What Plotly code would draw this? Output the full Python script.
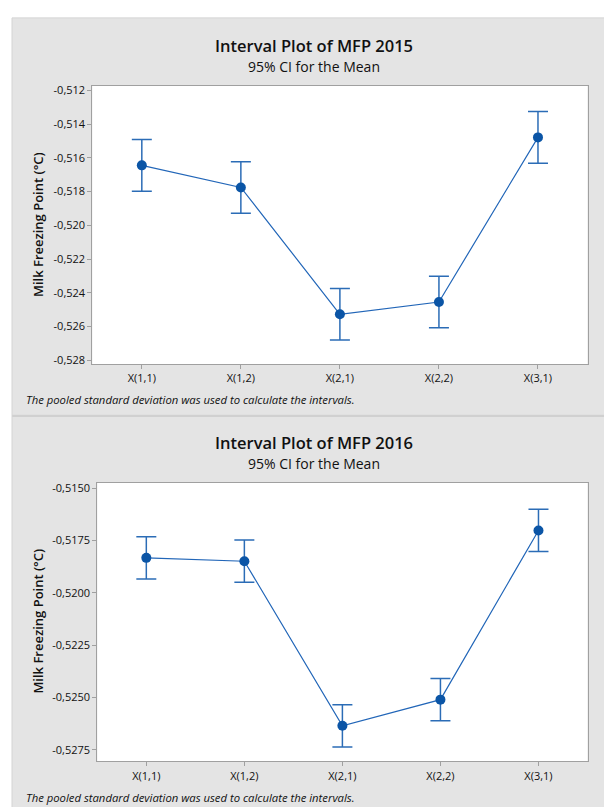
import plotly.graph_objects as go

# ---- data ----
categories = ["X(1,1)", "X(1,2)", "X(2,1)", "X(2,2)", "X(3,1)"]
mean_2015 = [-0.51644, -0.51775, -0.52528, -0.52455, -0.51478]
ci_half_2015 = [0.00153, 0.00153, 0.00153, 0.00153, 0.00153]
mean_2016 = [-0.51833, -0.51849, -0.52635, -0.52510, -0.51702]
ci_half_2016 = [0.00101, 0.00101, 0.00101, 0.00101, 0.00101]

ticks_2015 = [-0.512, -0.514, -0.516, -0.518, -0.520, -0.522, -0.524, -0.526, -0.528]
ticklabels_2015 = ["-0,512", "-0,514", "-0,516", "-0,518", "-0,520", "-0,522", "-0,524", "-0,526", "-0,528"]
ticks_2016 = [-0.5150, -0.5175, -0.5200, -0.5225, -0.5250, -0.5275]
ticklabels_2016 = ["-0,5150", "-0,5175", "-0,5200", "-0,5225", "-0,5250", "-0,5275"]

titles = ["Interval Plot of MFP 2015", "Interval Plot of MFP 2016"]
subtitle = "95% CI for the Mean"
ytitle = "Milk Freezing Point (°C)"
footnote = "The pooled standard deviation was used to calculate the intervals."

W, H = 604, 810
FONT = "Open Sans"
BLUE = "#0b55a6"
LINE_BLUE = "#2266b8"
EB_BLUE = "#2b6cb6"
AXIS_GRAY = "#a0a0a0"
PANEL = "#e4e4e4"

def px(x):
    return x / W

def py(y):
    return 1 - y / H

fig = go.Figure()

xs = list(range(len(categories)))

fig.add_trace(go.Scatter(
    x=xs, y=mean_2015, mode="lines+markers",
    line=dict(color=LINE_BLUE, width=1.2),
    marker=dict(color=BLUE, size=10),
    error_y=dict(type="data", array=ci_half_2015, visible=True,
                 color=EB_BLUE, thickness=1.5, width=10),
    xaxis="x", yaxis="y", showlegend=False, hoverinfo="skip"))

fig.add_trace(go.Scatter(
    x=xs, y=mean_2016, mode="lines+markers",
    line=dict(color=LINE_BLUE, width=1.2),
    marker=dict(color=BLUE, size=10),
    error_y=dict(type="data", array=ci_half_2016, visible=True,
                 color=EB_BLUE, thickness=1.5, width=10),
    xaxis="x2", yaxis="y2", showlegend=False, hoverinfo="skip"))

axis_common = dict(showline=True, mirror=True, linecolor=AXIS_GRAY, linewidth=1,
                   showgrid=False, zeroline=False, ticks="outside", ticklen=4,
                   tickcolor=AXIS_GRAY, tickfont=dict(family=FONT, size=11, color="#111"))

dom_x1 = [px(92.3), px(587.5)]
dom_y1 = [py(363.3), py(82.7)]
dom_x2 = [px(97.3), px(587.5)]
dom_y2 = [py(764), py(483.3)]

fig.update_layout(
    width=W, height=H, margin=dict(l=0, r=0, t=0, b=0),
    paper_bgcolor="white", plot_bgcolor="white",
    xaxis=dict(domain=dom_x1, range=[-0.5, 4.5],
               tickvals=xs, ticktext=categories, anchor="y", **axis_common),
    yaxis=dict(domain=dom_y1, range=[-0.52824, -0.51173],
               tickvals=ticks_2015, ticktext=ticklabels_2015, anchor="x", **axis_common),
    xaxis2=dict(domain=dom_x2, range=[-0.5, 4.5],
                tickvals=xs, ticktext=categories, anchor="y2", **axis_common),
    yaxis2=dict(domain=dom_y2, range=[-0.52805, -0.51476],
                tickvals=ticks_2016, ticktext=ticklabels_2016, anchor="x2", **axis_common),
)

shapes = [
    dict(type="rect", xref="paper", yref="paper", x0=px(12), x1=1, y0=py(414), y1=py(14),
         fillcolor=PANEL, line=dict(width=0), layer="below"),
    dict(type="rect", xref="paper", yref="paper", x0=px(12), x1=1, y0=0, y1=py(416.5),
         fillcolor=PANEL, line=dict(width=0), layer="below"),
    dict(type="rect", xref="paper", yref="paper", x0=px(12), x1=1, y0=py(416.5), y1=py(414),
         fillcolor="#d0d0d0", line=dict(width=0), layer="below"),
    dict(type="line", xref="paper", yref="paper", x0=px(12), x1=px(12), y0=0, y1=py(14),
         line=dict(color="#d4d4d4", width=1), layer="below"),
    dict(type="line", xref="paper", yref="paper", x0=px(12), x1=1, y0=py(14), y1=py(14),
         line=dict(color="#d4d4d4", width=1), layer="below"),
    dict(type="rect", xref="paper", yref="paper", x0=dom_x1[0], x1=dom_x1[1],
         y0=dom_y1[0], y1=dom_y1[1], fillcolor="white", line=dict(width=0), layer="below"),
    dict(type="rect", xref="paper", yref="paper", x0=dom_x2[0], x1=dom_x2[1],
         y0=dom_y2[0], y1=dom_y2[1], fillcolor="white", line=dict(width=0), layer="below"),
]

annotations = []
panel_specs = [
    (titles[0], 42, 63.5, 223, 399),
    (titles[1], 442, 463.5, 623, 800),
]
for title, ty, sy, ay, fy in panel_specs:
    annotations.append(dict(text=title, x=px(314), y=py(ty), xref="paper", yref="paper",
                            showarrow=False, xanchor="center", yanchor="middle", borderpad=0,
                            font=dict(family=FONT, size=16.5, color="#111", weight=600)))
    annotations.append(dict(text=subtitle, x=px(314), y=py(sy), xref="paper", yref="paper",
                            showarrow=False, xanchor="center", yanchor="middle", borderpad=0,
                            font=dict(family=FONT, size=14, color="#111")))
    annotations.append(dict(text=ytitle, x=px(38), y=py(ay), xref="paper", yref="paper",
                            showarrow=False, xanchor="center", yanchor="middle", textangle=-90,
                            font=dict(family=FONT, size=13, color="#111", weight=600)))
    annotations.append(dict(text="<i>" + footnote + "</i>", x=px(24), y=py(fy), xref="paper",
                            yref="paper", showarrow=False, xanchor="left", yanchor="middle",
                            font=dict(family=FONT, size=11.3, color="#111")))

fig.update_layout(shapes=shapes, annotations=annotations)

fig.write_html("out.html", config={"displayModeBar": False},
               post_script="document.body.style.margin='0';document.body.style.overflow='hidden';")
